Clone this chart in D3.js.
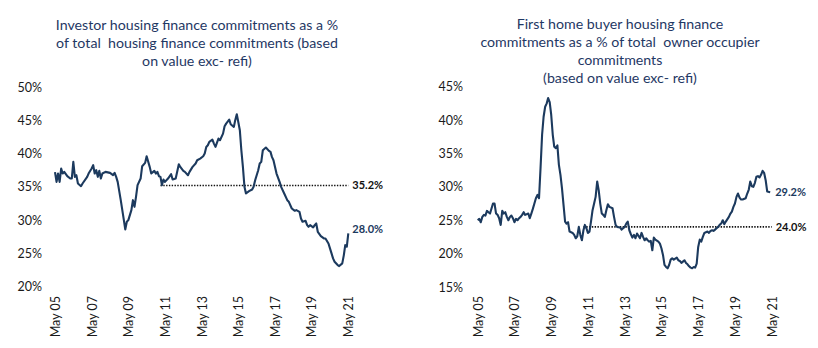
<!DOCTYPE html>
<html>
<head>
<meta charset="utf-8">
<script src="https://cdn.jsdelivr.net/npm/d3@7"></script>
<style>
  html, body { margin: 0; padding: 0; background: #ffffff; }
  svg { display: block; }
</style>
</head>
<body>
<svg id="chart" width="818" height="348"></svg>
<script>
// ---------- DATA ----------
const leftTitle = ["Investor housing finance commitments as a %",
                   "of total  housing finance commitments (based",
                   "on value exc- refi)"];
const rightTitle = ["First home buyer housing finance",
                    "commitments as a % of total  owner occupier",
                    "commitments",
                    "(based on value exc- refi)"];

const xTickDates = ["2005-05","2007-05","2009-05","2011-05","2013-05","2015-05","2017-05","2019-05","2021-05"];
const xTickLabels = ["May 05","May 07","May 09","May 11","May 13","May 15","May 17","May 19","May 21"];
const leftYTicks = [20, 25, 30, 35, 40, 45, 50];
const rightYTicks = [15, 20, 25, 30, 35, 40, 45];

// Investor share (%)
const investorDates = ["2005-05","2005-06","2005-07","2005-08","2005-09","2005-10","2005-11","2006-01","2006-03","2006-04",
  "2006-05","2006-06","2006-07","2006-08","2006-10","2006-11","2007-02","2007-03","2007-05","2007-06",
  "2007-07","2007-08","2007-09","2007-10","2007-11","2007-12","2008-02","2008-05","2008-07","2008-08",
  "2008-09","2008-10","2008-12","2009-02","2009-03","2009-04","2009-05","2009-07","2009-08","2009-09",
  "2009-10","2009-11","2010-01","2010-02","2010-04","2010-05","2010-07","2010-08","2010-10","2010-11",
  "2010-12","2011-01","2011-02","2011-03","2011-04","2011-05","2011-07","2011-09","2011-10","2011-12",
  "2012-02","2012-03","2012-05","2012-06","2012-08","2012-09","2012-11","2013-01","2013-02","2013-04",
  "2013-06","2013-07","2013-08","2013-09","2013-10","2013-12","2014-01","2014-02","2014-03","2014-04",
  "2014-05","2014-07","2014-08","2014-09","2014-11","2014-12","2015-02","2015-03","2015-04","2015-05",
  "2015-06","2015-07","2015-08","2015-09","2015-10","2015-12","2016-02","2016-03","2016-04","2016-06",
  "2016-07","2016-08","2016-09","2016-11","2017-01","2017-02","2017-03","2017-04","2017-06","2017-08",
  "2017-09","2017-11","2018-01","2018-02","2018-04","2018-06","2018-07","2018-09","2018-10","2018-11",
  "2019-01","2019-02","2019-03","2019-04","2019-06","2019-07","2019-08","2019-09","2019-11","2020-01",
  "2020-02","2020-04","2020-05","2020-06","2020-07","2020-08","2020-10","2020-11","2021-01","2021-02",
  "2021-03","2021-04","2021-05"];
const investorValues = [37.2,35.75,37.0,35.75,37.75,37.0,37.25,36.6,36.25,36.25,
  38.75,36.5,36.75,35.5,35.1,35.5,36.5,37.0,37.75,38.25,
  37.0,37.5,36.5,37.4,36.25,37.0,37.25,37.1,36.75,37.1,
  36.5,35.75,33.0,30.0,28.6,29.75,30.0,31.5,33.0,32.0,
  33.5,35.25,36.25,38.1,38.6,39.6,38.0,37.0,37.4,37.0,
  37.25,36.6,36.5,35.25,36.1,35.75,36.25,36.9,36.1,36.25,
  38.4,38.0,37.4,37.25,36.75,37.25,38.0,38.5,39.0,39.25,
  39.6,40.0,41.0,41.25,41.75,42.1,41.5,41.0,41.6,42.25,
  42.0,43.0,44.1,44.5,45.1,44.4,44.0,45.0,45.9,44.75,
  43.5,40.5,38.0,35.0,34.0,34.35,34.6,35.0,36.0,37.5,
  38.5,38.75,40.5,40.9,40.4,40.25,39.5,39.0,37.0,35.75,
  35.0,34.0,33.0,32.75,31.75,31.4,31.5,31.25,30.25,29.75,
  29.9,29.25,29.0,29.25,28.9,29.25,29.5,28.25,27.6,27.25,
  27.25,26.5,25.75,25.0,24.25,23.75,23.25,23.1,23.5,24.75,
  26.25,26.0,28.0];

// First home buyer share (%)
const fhbDates = ["2005-05","2005-06","2005-07","2005-08","2005-09","2005-10","2005-11","2005-12","2006-01","2006-02",
  "2006-03","2006-04","2006-05","2006-06","2006-07","2006-08","2006-09","2006-10","2006-11","2006-12",
  "2007-01","2007-02","2007-03","2007-04","2007-05","2007-06","2007-07","2007-08","2007-09","2007-10",
  "2007-11","2007-12","2008-02","2008-03","2008-04","2008-05","2008-06","2008-07","2008-08","2008-09",
  "2008-10","2008-11","2008-12","2009-01","2009-02","2009-03","2009-04","2009-05","2009-06","2009-07",
  "2009-08","2009-09","2009-10","2009-11","2009-12","2010-01","2010-02","2010-03","2010-04","2010-05",
  "2010-06","2010-07","2010-08","2010-09","2010-10","2010-11","2010-12","2011-01","2011-02","2011-03",
  "2011-04","2011-05","2011-06","2011-07","2011-08","2011-09","2011-10","2011-11","2011-12","2012-01",
  "2012-02","2012-03","2012-04","2012-05","2012-06","2012-07","2012-09","2012-10","2012-11","2012-12",
  "2013-02","2013-03","2013-05","2013-06","2013-07","2013-08","2013-09","2013-10","2013-11","2013-12",
  "2014-01","2014-03","2014-04","2014-05","2014-06","2014-07","2014-08","2014-09","2014-10","2014-11",
  "2014-12","2015-01","2015-03","2015-04","2015-05","2015-06","2015-07","2015-08","2015-09","2015-10",
  "2015-11","2015-12","2016-01","2016-03","2016-04","2016-05","2016-06","2016-07","2016-08","2016-09",
  "2016-10","2016-11","2016-12","2017-01","2017-02","2017-03","2017-04","2017-05","2017-06","2017-07",
  "2017-08","2017-09","2017-11","2017-12","2018-01","2018-02","2018-03","2018-04","2018-05","2018-06",
  "2018-07","2018-08","2018-09","2018-10","2018-11","2019-01","2019-02","2019-03","2019-04","2019-05",
  "2019-06","2019-07","2019-08","2019-09","2019-10","2019-12","2020-01","2020-02","2020-03","2020-04",
  "2020-05","2020-06","2020-07","2020-08","2020-09","2020-10","2020-11","2020-12","2021-01","2021-02",
  "2021-04"];
const fhbValues = [25.0,25.2,24.7,25.5,25.8,25.7,26.4,26.2,26.0,26.8,
  27.5,27.5,26.0,25.8,25.3,24.3,26.4,26.0,26.2,25.5,
  25.0,25.5,25.7,25.3,24.7,25.2,25.0,25.3,25.5,25.8,
  26.2,25.8,26.0,25.3,26.0,26.7,27.5,28.3,28.8,28.3,
  32.8,37.8,40.5,42.0,42.5,43.3,42.7,40.8,37.8,36.0,
  35.8,36.2,33.3,31.8,29.8,27.3,24.8,24.5,24.7,23.3,
  23.2,23.1,22.8,22.3,22.6,24.0,22.8,22.0,23.5,24.3,
  23.8,23.1,23.3,24.8,26.5,27.5,28.5,30.8,29.5,27.5,
  26.0,25.8,25.5,26.5,27.4,27.0,26.8,25.5,24.3,24.0,
  23.9,23.6,24.0,24.5,24.8,23.5,22.9,22.4,22.8,22.3,
  23.0,22.3,23.1,22.5,22.0,22.3,22.0,21.8,21.9,20.5,
  22.4,22.1,21.8,21.5,20.8,19.8,18.3,18.0,17.8,18.3,
  19.1,19.3,19.1,19.4,19.0,18.9,18.6,18.8,19.0,18.6,
  18.4,18.1,17.9,17.8,18.0,17.9,18.5,21.0,22.1,21.8,
  22.5,23.1,23.3,23.1,23.4,23.5,23.4,23.6,23.8,24.0,
  24.3,24.5,25.0,24.4,24.8,25.5,26.0,26.3,27.0,27.5,
  28.5,29.0,28.4,28.1,28.1,28.3,29.0,29.6,30.8,30.1,
  30.0,30.6,31.5,31.6,31.4,31.8,32.4,32.1,31.0,29.3,
  29.2];

// Reference (average) lines
const investorAvg = 35.2;
const fhbAvg = 24.0;
const avgStart = "2011-02";
const avgEnd = "2021-05";
const investorLast = "28.0%";
const fhbLast = "29.2%";

// ---------- DRAWING ----------
const parse = d3.timeParse("%Y-%m");
const svg = d3.select("#chart");
const navy = "#1c3a5e";
const titleColor = "#1f3864";
const fontFam = "Lato, 'Open Sans', sans-serif";

function panel(cfg) {
  const x = d3.scaleTime()
    .domain([parse(xTickDates[0]), parse(xTickDates[xTickDates.length - 1])])
    .range(cfg.xRange);
  const y = d3.scaleLinear().domain(cfg.yDomain).range(cfg.yRange);
  const g = svg.append("g");

  // title
  const t = g.append("text")
    .attr("text-anchor", "middle")
    .attr("xml:space", "preserve")
    .style("white-space", "pre")
    .attr("fill", titleColor)
    .style("font-family", fontFam)
    .style("font-size", "14.2px");
  cfg.title.forEach((line, i) => {
    t.append("tspan").attr("x", cfg.titleX).attr("y", cfg.titleY + i * 18.2).text(line);
  });

  // y axis
  const yAxis = g.append("g")
    .attr("transform", `translate(${cfg.yLabelX + 2},0)`)
    .call(d3.axisLeft(y).tickValues(cfg.yTicks).tickFormat(d => d + "%").tickSize(0).tickPadding(2));
  yAxis.select(".domain").remove();
  yAxis.selectAll("text")
    .style("font-family", fontFam).style("font-size", "12.5px").attr("fill", "#1a1a1a");

  // x axis
  const xAxis = g.append("g")
    .attr("transform", `translate(0,${cfg.xLabelY})`)
    .call(d3.axisBottom(x).tickValues(xTickDates.map(parse))
      .tickFormat((d, i) => xTickLabels[i]).tickSize(0));
  xAxis.select(".domain").remove();
  xAxis.selectAll("text")
    .attr("transform", "rotate(-90)")
    .attr("x", 0).attr("y", 0).attr("dy", "0.35em")
    .style("text-anchor", "end")
    .style("font-family", fontFam).style("font-size", "12.5px").attr("fill", "#1a1a1a");

  // average dotted line
  g.append("line")
    .attr("x1", x(parse(avgStart))).attr("x2", x(parse(avgEnd)))
    .attr("y1", y(cfg.avg)).attr("y2", y(cfg.avg))
    .attr("stroke", "#111111").attr("stroke-width", 1.6)
    .attr("stroke-dasharray", "1.4,1.4");
  g.append("text")
    .attr("x", x(parse(avgEnd)) + 4).attr("y", y(cfg.avg)).attr("dy", "0.35em")
    .attr("fill", "#111111").style("font-family", fontFam)
    .style("font-size", "11px").style("font-weight", "bold")
    .text(cfg.avg.toFixed(1) + "%");

  // series line
  const data = cfg.dates.map((d, i) => ({ date: parse(d), value: cfg.values[i] }));
  g.append("path").datum(data)
    .attr("fill", "none").attr("stroke", navy).attr("stroke-width", 2.1)
    .attr("stroke-linejoin", "round")
    .attr("d", d3.line().x(d => x(d.date)).y(d => y(d.value)));

  const last = data[data.length - 1];
  g.append("text")
    .attr("x", x(last.date) + cfg.lastDx).attr("y", y(last.value) + cfg.lastDy).attr("dy", "0.35em")
    .attr("fill", navy).style("font-family", fontFam)
    .style("font-size", "11px").style("font-weight", "bold")
    .text(cfg.lastLabel);
}

panel({
  title: leftTitle, titleX: 197, titleY: 29.5,
  xRange: [55, 348.3], yDomain: [20, 50], yRange: [286.7, 87],
  yTicks: leftYTicks, yLabelX: 42, xLabelY: 296,
  dates: investorDates, values: investorValues,
  avg: investorAvg, lastLabel: investorLast, lastDx: 4, lastDy: -4
});
panel({
  title: rightTitle, titleX: 620, titleY: 28.5,
  xRange: [477.7, 771.7], yDomain: [15, 45], yRange: [287, 86.7],
  yTicks: rightYTicks, yLabelX: 463, xLabelY: 296,
  dates: fhbDates, values: fhbValues,
  avg: fhbAvg, lastLabel: fhbLast, lastDx: 5, lastDy: 0
});
</script>
</body>
</html>
